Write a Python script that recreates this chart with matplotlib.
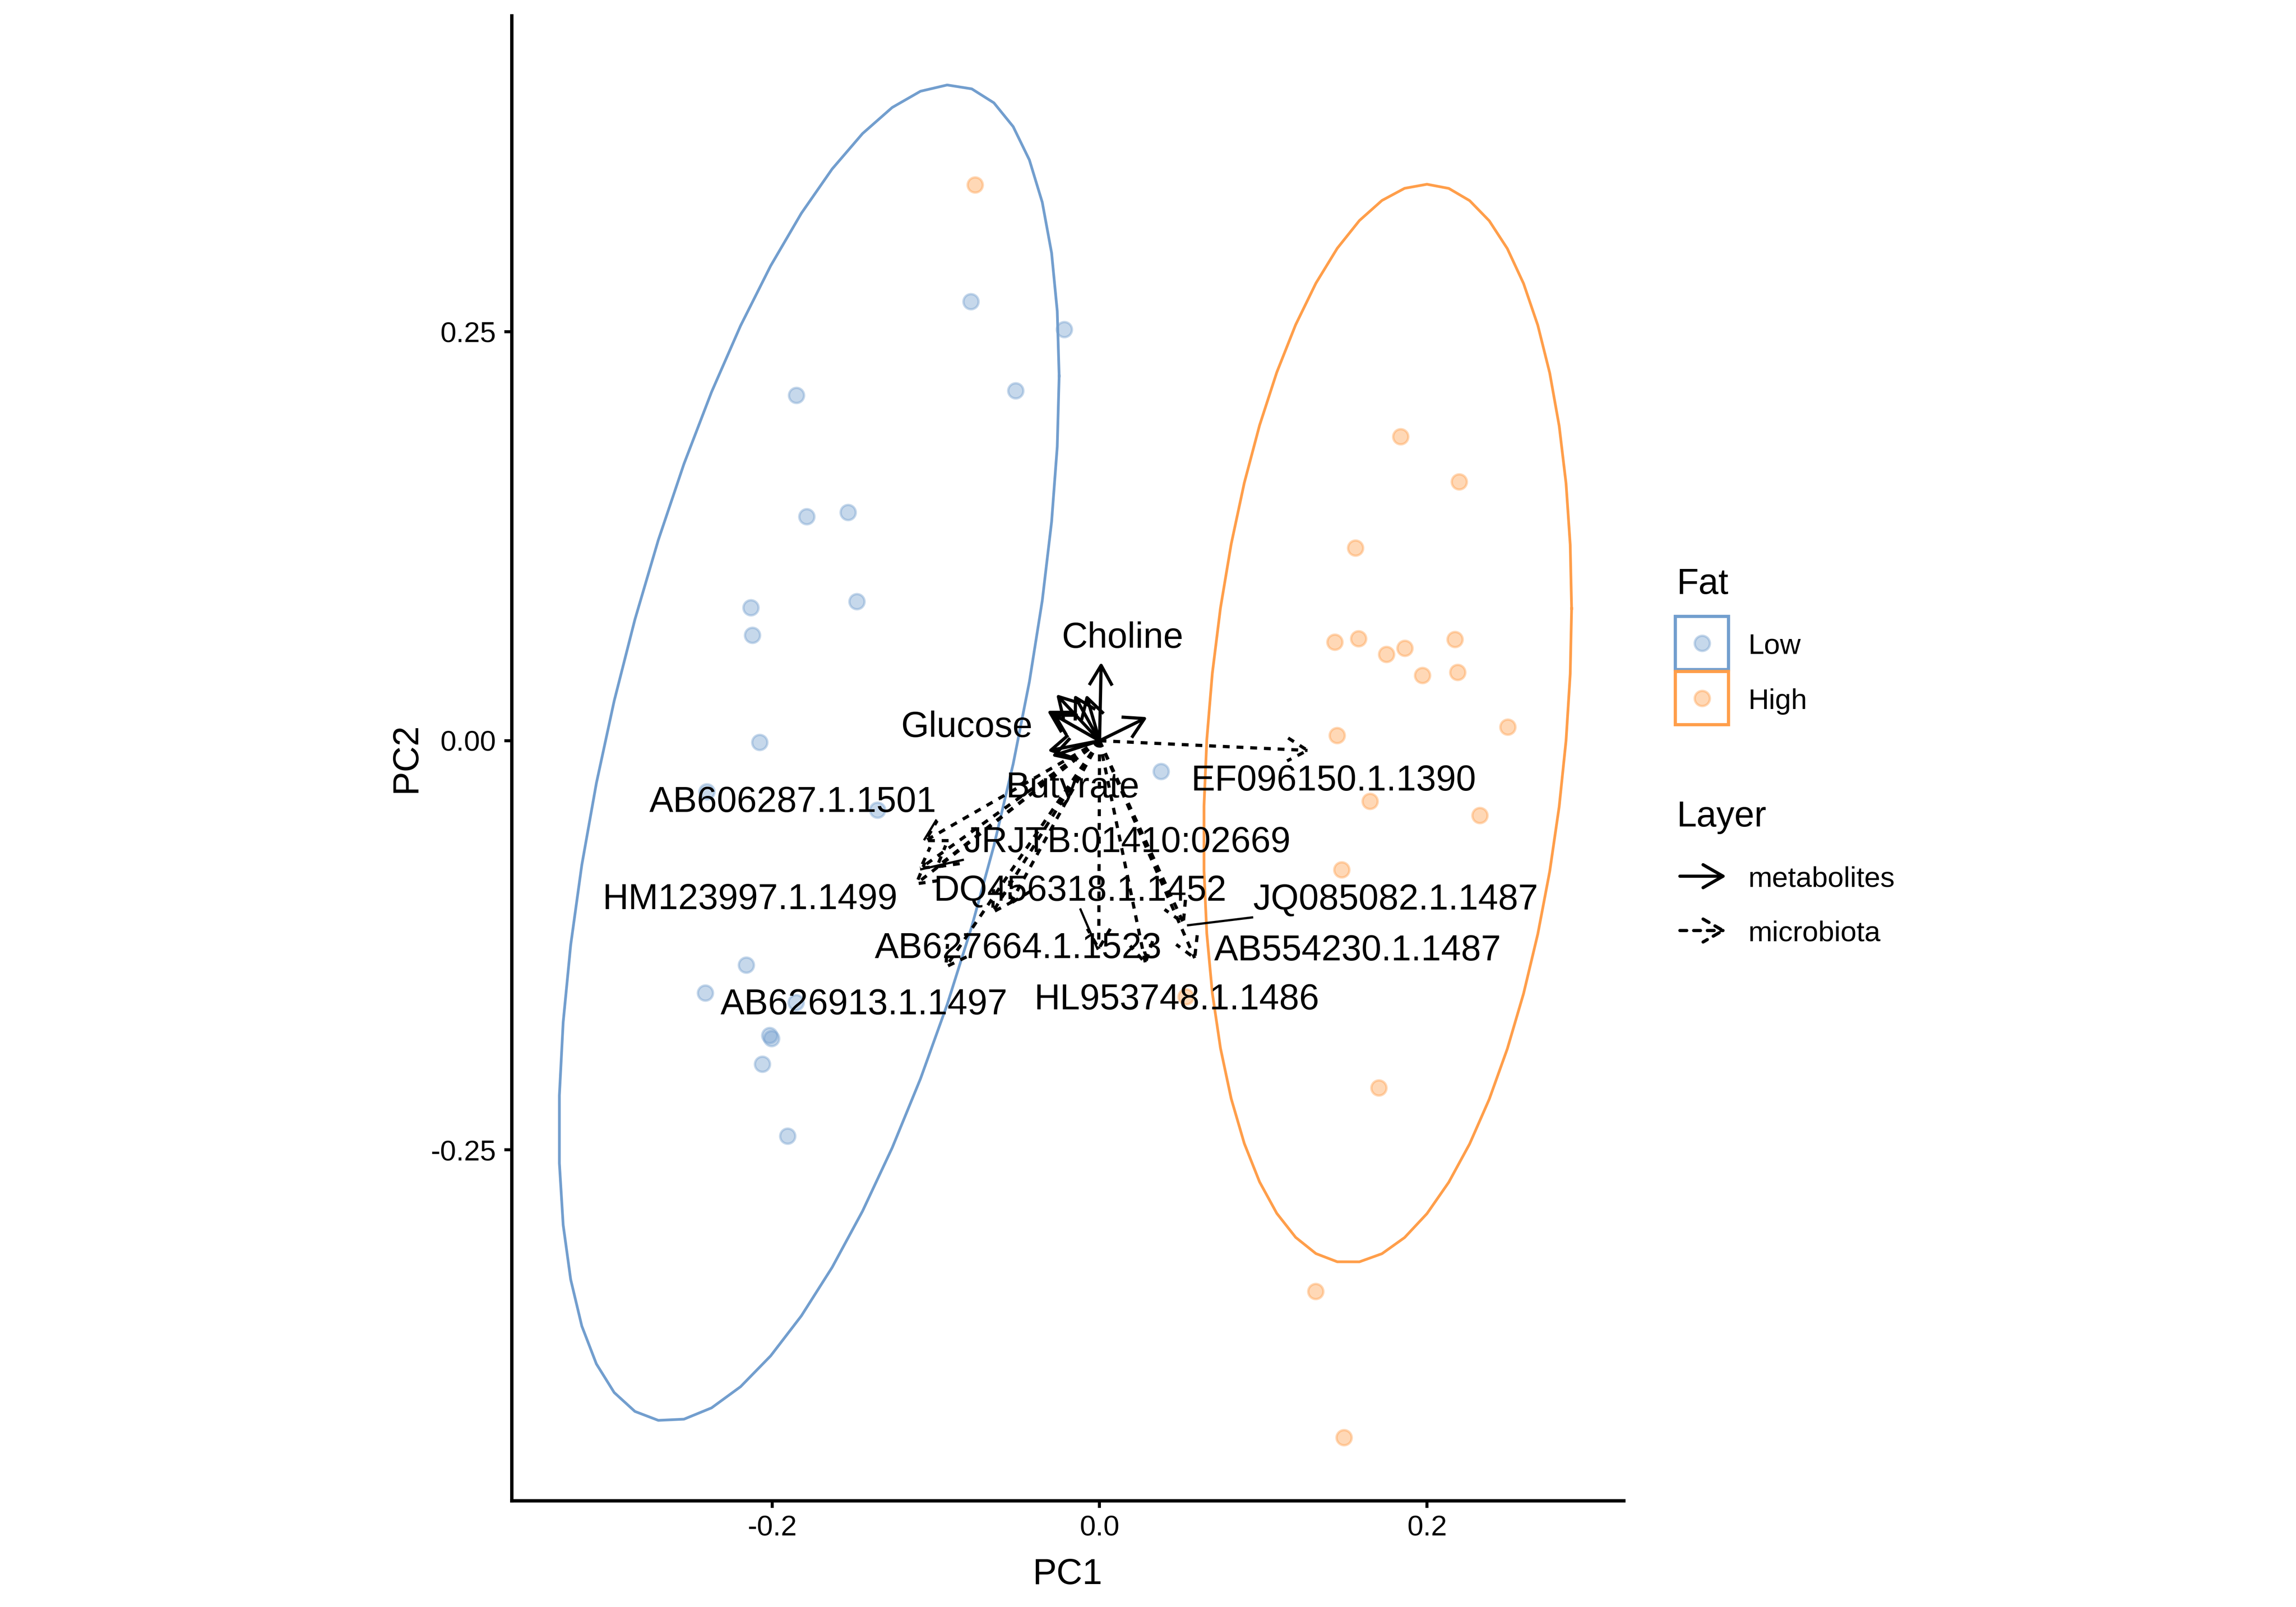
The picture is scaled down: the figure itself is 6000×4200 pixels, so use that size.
import numpy as np
import matplotlib
matplotlib.use("Agg")
import matplotlib.pyplot as plt
from matplotlib.patches import FancyArrowPatch, ArrowStyle, Rectangle
from matplotlib.lines import Line2D

plt.rcParams['font.family'] = ['Liberation Sans', 'DejaVu Sans']

# ---------------- data ----------------
fat_levels = ["Low", "High"]
fat_colors = ["#729ECE", "#FF9E4A"]

low_pc1 = [-0.0786, -0.0216, -0.0512, -0.1852, -0.1789, -0.1537, -0.1483, -0.2130,
           -0.2121, -0.2076, -0.1357, -0.2400, 0.0375, -0.2160, -0.2410, -0.1855,
           -0.2016, -0.2005, -0.2060, -0.1906]
low_pc2 = [0.2683, 0.2513, 0.2138, 0.2111, 0.1369, 0.1395, 0.0850, 0.0814,
           0.0644, -0.0009, -0.0423, -0.0310, -0.0188, -0.1370, -0.1540, -0.1600,
           -0.1800, -0.1820, -0.1975, -0.2415]

high_pc1 = [0.1839, 0.2196, 0.1562, 0.1437, 0.1581, 0.1752, 0.1864, 0.2172,
            0.1972, 0.2187, 0.2494, 0.1451, 0.1652, 0.2323, 0.1478, 0.1705,
            0.1320, 0.0527, -0.0761, 0.1493]
high_pc2 = [0.1859, 0.1583, 0.1177, 0.0604, 0.0624, 0.0528, 0.0566, 0.0620,
            0.0400, 0.0418, 0.0084, 0.0033, -0.0369, -0.0455, -0.0789, -0.2121,
            -0.3365, -0.1563, 0.3397, -0.4257]

# ellipse (center and shape matrix) per Fat level
ellipse_cx = [-0.1775, 0.1760]
ellipse_cy = [-0.0075, 0.0105]
ellipse_vxx = [0.02335, 0.012634]
ellipse_vyy = [0.16663, 0.10857]
ellipse_vxy = [0.0352, 0.0079]

# metabolite loadings (solid arrows)
metab_pc1 = [0.0010, 0.0292, -0.0265, -0.0156, -0.0082, -0.0320, -0.0290, -0.0317, -0.0293]
metab_pc2 = [0.0480, 0.0144, 0.0284, 0.0281, 0.0282, 0.0183, 0.0165, -0.0062, -0.0094]
metab_labels = ["Choline", "", "", "", "", "", "", "Glucose", "Butyrate"]
metab_label_x = [0.0141, None, None, None, None, None, None, -0.0812, -0.0164]
metab_label_y = [0.0569, None, None, None, None, None, None, 0.0023, -0.0346]

# microbiota loadings (dashed arrows)
micro_pc1 = [0.1290, -0.0005, 0.0284, 0.0520, 0.0589, -0.1080, -0.1110, -0.1135,
             -0.0663, -0.0950, -0.0555, -0.1009]
micro_pc2 = [-0.0060, -0.1290, -0.1377, -0.1130, -0.1346, -0.0620, -0.0790, -0.0886,
             -0.1064, -0.1398, -0.1012, -0.0782]
micro_labels = ["EF096150.1.1390", "DQ456318.1.1452", "HL953748.1.1486",
                "JQ085082.1.1487", "AB554230.1.1487", "AB606287.1.1501",
                "JRJTB:01410:02669", "HM123997.1.1499", "AB627664.1.1523",
                "AB626913.1.1497", "", ""]
micro_label_x = [0.1430, -0.0119, 0.0472, 0.1810, 0.1578, -0.1873, 0.0170, -0.2135,
                 -0.0497, -0.1438, None, None]
micro_label_y = [-0.0304, -0.0978, -0.1642, -0.1032, -0.1342, -0.0435, -0.0680, -0.1029,
                 -0.1329, -0.1671, None, None]
micro_leader = [False, True, False, True, False, True, True, False, False, False, False, False]

layer_levels = ["metabolites", "microbiota"]

# ---------------- figure ----------------
W, H = 6000, 4200
fig = plt.figure(figsize=(20, 14), dpi=300, facecolor="white")


def fx(x):
    return x / W


def fy(y):
    return 1 - y / H


ax = fig.add_axes([fx(1337), fy(3922), (4243 - 1337) / W, (3922 - 41) / H])
ax.set_xlim(-0.3592, 0.3202)
ax.set_ylim(-0.4643, 0.4430)

for s in ["top", "right"]:
    ax.spines[s].set_visible(False)
for s in ["left", "bottom"]:
    ax.spines[s].set_linewidth(2.1)
    ax.spines[s].set_color("black")

ax.set_xticks([-0.2, 0.0, 0.2], ["-0.2", "0.0", "0.2"])
ax.set_yticks([-0.25, 0.0, 0.25], ["-0.25", "0.00", "0.25"])
ax.tick_params(length=4.5, width=1.9, labelsize=18, color="black", labelcolor="black")
ax.tick_params(axis="x", pad=4.4)
ax.tick_params(axis="y", pad=5.3)

# points
groups = [(low_pc1, low_pc2), (high_pc1, high_pc2)]
for (px, py), col in zip(groups, fat_colors):
    ax.scatter(px, py, s=90, color=col, edgecolors=col, linewidths=1.5, alpha=0.4, zorder=2)

# ellipses
t = np.linspace(0, 2 * np.pi, 52)
for i, col in enumerate(fat_colors):
    a = np.sqrt(ellipse_vxx[i])
    b = ellipse_vxy[i] / a
    c = np.sqrt(ellipse_vyy[i] - b * b)
    ex = ellipse_cx[i] + a * np.cos(t)
    ey = ellipse_cy[i] + b * np.cos(t) + c * np.sin(t)
    ax.plot(ex, ey, color=col, lw=1.7, zorder=3)

# arrows
astyle = ArrowStyle("->", head_length=12.5, head_width=7.2)
ARROW_LW = 2.0


def draw_arrow(x, y, ls):
    p = FancyArrowPatch((0, 0), (x, y), arrowstyle=astyle, mutation_scale=1,
                        shrinkA=0, shrinkB=0, lw=ARROW_LW, ls=ls, color="black",
                        joinstyle="round", capstyle="butt", zorder=4)
    ax.add_patch(p)


dash = (0, (2.15, 2.15))
for x, y in zip(micro_pc1, micro_pc2):
    draw_arrow(x, y, dash)
for x, y in zip(metab_pc1, metab_pc2):
    draw_arrow(x, y, "-")

# labels
label_kw = dict(ha="center", va="baseline", fontsize=22.5, color="black", zorder=5)
for lab, lx, ly in zip(metab_labels, metab_label_x, metab_label_y):
    if lab:
        ax.text(lx, ly, lab, **label_kw)

leader_items = []
for lab, lx, ly, tx, ty, led in zip(micro_labels, micro_label_x, micro_label_y,
                                     micro_pc1, micro_pc2, micro_leader):
    if lab:
        tobj = ax.text(lx, ly, lab, **label_kw)
        if led:
            leader_items.append((tobj, tx, ty))

# axis titles
fig.text(fx(2790), fy(4140), "PC1", ha="center", va="baseline", fontsize=22.5)
fig.text(fx(1086), fy(1981), "PC2", ha="center", va="baseline", fontsize=22.5,
         rotation=90, rotation_mode="anchor")

# ---------------- legend ----------------
fig.text(fx(4381), fy(1552), "Fat", ha="left", va="baseline", fontsize=22.5)
key_tops = [1611, 1755]
label_base = [1708, 1853]
for lev, col, top, lb in zip(fat_levels, fat_colors, key_tops, label_base):
    fig.add_artist(Rectangle((fx(4378), fy(top + 139)), 139 / W, 139 / H,
                             transform=fig.transFigure, fill=False, ec=col, lw=2.0))
    fig.add_artist(Line2D([fx(4448)], [fy(top + 70)], transform=fig.transFigure,
                          marker="o", ms=9.5, mfc=col, mec=col, mew=1.5, alpha=0.4,
                          ls="none"))
    fig.text(fx(4569), fy(lb), lev, ha="left", va="baseline", fontsize=18)

fig.text(fx(4381), fy(2160), "Layer", ha="left", va="baseline", fontsize=22.5)
for lev, ls, yk, lb in zip(layer_levels, ["-", dash], [2290, 2432], [2318, 2460]):
    fig.add_artist(FancyArrowPatch((fx(4390), fy(yk)), (fx(4511), fy(yk)),
                                   transform=fig.transFigure, arrowstyle=astyle,
                                   mutation_scale=1, shrinkA=0, shrinkB=0, lw=ARROW_LW,
                                   ls=ls, color="black", joinstyle="round"))
    fig.text(fx(4569), fy(lb), lev, ha="left", va="baseline", fontsize=18)

# ---------------- leader segments (ggrepel style) ----------------
fig.canvas.draw()
renderer = fig.canvas.get_renderer()
inv = ax.transData.inverted()
for tobj, tx, ty in leader_items:
    bb = tobj.get_window_extent(renderer)
    xs = [bb.x0, (bb.x0 + bb.x1) / 2, bb.x1]
    ys = [bb.y0, (bb.y0 + bb.y1) / 2, bb.y1]
    cands = [(x, y) for x in xs for y in ys if not (x == xs[1] and y == ys[1])]
    tip = ax.transData.transform((tx, ty))
    best = np.array(min(cands, key=lambda p: (p[0] - tip[0]) ** 2 + (p[1] - tip[1]) ** 2))
    v = tip - best
    L = np.hypot(*v)
    end = tip - v / L * 6
    s_d = inv.transform(best)
    e_d = inv.transform(end)
    ax.plot([s_d[0], e_d[0]], [s_d[1], e_d[1]], color="black", lw=1.4, zorder=4.5,
            solid_capstyle="butt")

fig.savefig("out.png", dpi=300, facecolor="white")
